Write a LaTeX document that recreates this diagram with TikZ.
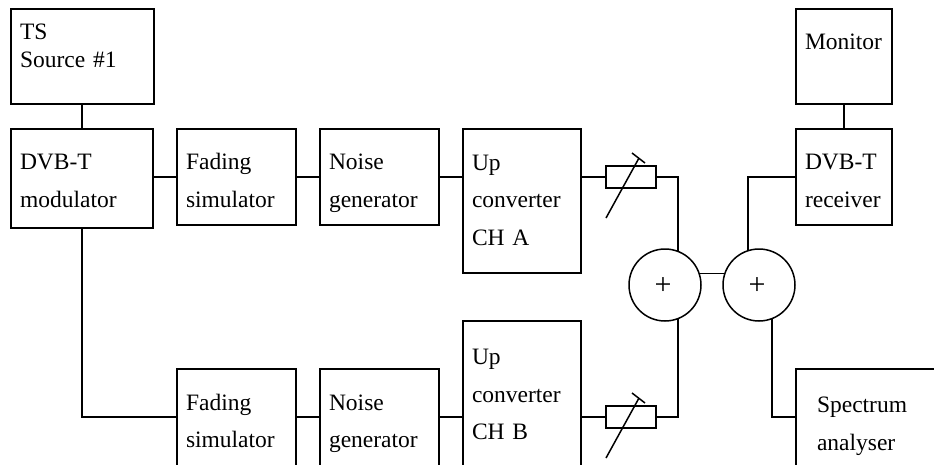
\documentclass[tikz,border=0pt]{standalone}
\usepackage{fontspec}
\setmainfont{Liberation Serif}
\usetikzlibrary{calc,positioning}
\tikzset{
    blockbox/.style={draw,line width=1.5pt,rectangle,align=left,anchor=north west,inner xsep=9pt,inner ysep=0pt,outer sep=0pt,
        font=\fontsize{23.5}{28}\selectfont,
        execute at begin node={\rule{0pt}{30pt}},execute at end node={\rule[-7pt]{0pt}{0pt}}},
    trimbox/.style={draw,line width=1.5pt,rectangle,minimum width=50pt,minimum height=22pt,inner sep=0pt,outer sep=0pt},
    sumnode/.style={draw,line width=1.5pt,circle,minimum size=72pt,inner sep=0pt,outer sep=0pt,font=\fontsize{30}{30}\selectfont},
    wire/.style={line width=1.5pt},
    trimarrow/.style={line width=1.5pt}
}
\newcommand{\blockdepth}[1]{\rule[-#1]{0pt}{0pt}}
\newcommand{\sumplus}{\raisebox{-9.5pt}[0pt][0pt]{+}\kern4pt}
\begin{document}
\begin{tikzpicture}[x=1pt,y=-1pt]
    \useasboundingbox (0,0) rectangle (934,464);
    \begin{scope}
    \clip (0,0) rectangle (934,464);
        % top row
        \node[blockbox,text width=125pt,minimum height=95pt] (tssource) at (11,9) {TS\\Source \#1\blockdepth{36pt}};
        \node[blockbox,text width=124pt,minimum height=99pt] (modulator) at (11,129) {DVB-T\\[9.5pt]modulator\blockdepth{10pt}};
        \node[blockbox,text width=101pt,minimum height=96pt] (fadingA) at (177,129) {Fading\\[9.5pt]simulator};
        \node[blockbox,text width=101pt,minimum height=96pt] (noiseA) at (320,129) {Noise\\[9.5pt]generator};
        \node[blockbox,text width=100pt,minimum height=144pt] (upA) at (463,129) {Up\\[9.5pt]converter\\[9.5pt]CH A\blockdepth{17pt}};
        \node[blockbox,text width=78pt,minimum height=95pt] (monitor) at (796,9) {Monitor\blockdepth{45pt}};
        \node[blockbox,text width=78pt,minimum height=96pt] (receiver) at (796,129) {DVB-T\\[9.5pt]receiver};
        % bottom row
        \node[blockbox,text width=101pt,minimum height=97pt] (fadingB) at (177,369) {Fading\\[9.5pt]simulator};
        \node[blockbox,text width=101pt,minimum height=97pt] (noiseB) at (320,369) {Noise\\[9.5pt]generator};
        \node[blockbox,text width=100pt,minimum height=145pt] (upB) at (463,321) {Up\\[9.5pt]converter\\[9.5pt]CH B\blockdepth{13pt}};
        \node[blockbox,inner xsep=21pt,text width=118pt,minimum height=102pt] (analyser) at (796,369) {Spectrum\\[9.5pt]analyser};
    \end{scope}

    \node[trimbox] (trimA) at (631,177) {};
    \node[trimbox] (trimB) at (631,417) {};
    \node[sumnode] (sumA) at (665,285) {\sumplus};
    \node[sumnode] (sumB) at (759,285) {\sumplus};

    \draw[wire] (modulator.north) -- (tssource.south -| modulator.north);
    \draw[wire] (modulator.east |- trimA) -- (fadingA.west |- trimA);
    \draw[wire] (fadingA.east |- trimA) -- (noiseA.west |- trimA);
    \draw[wire] (noiseA.east |- trimA) -- (upA.west |- trimA);
    \draw[wire] (upA.east |- trimA) -- (trimA.west);
    \draw[wire] (modulator.south) |- (fadingB.west |- trimB);
    \draw[wire] (fadingB.east |- trimB) -- (noiseB.west |- trimB);
    \draw[wire] (noiseB.east |- trimB) -- (upB.west |- trimB);
    \draw[wire] (upB.east |- trimB) -- (trimB.west);
    \draw[wire] (monitor.south) -- (receiver.north);
    \draw[wire] (trimA.east) -| (sumA.69);
    \draw[wire] (trimB.east) -| (sumA.-69);
    \draw[wire] (receiver.west |- trimA) -| (sumB.108);
    \draw[wire] (analyser.west |- trimB) -| (sumB.-69);
    \draw[wire] (sumA.19) -- (sumB.161);

    % variable resistor strokes
    \foreach \trim in {trimA,trimB} {
        \draw[trimarrow] ($(\trim.center)+(-25,41)$) -- ($(\trim.center)+(8,-19)$);
        \draw[trimarrow] ($(\trim.center)+(1,-24)$) -- ($(\trim.center)+(14,-14)$);
    }
\end{tikzpicture}
\end{document}
